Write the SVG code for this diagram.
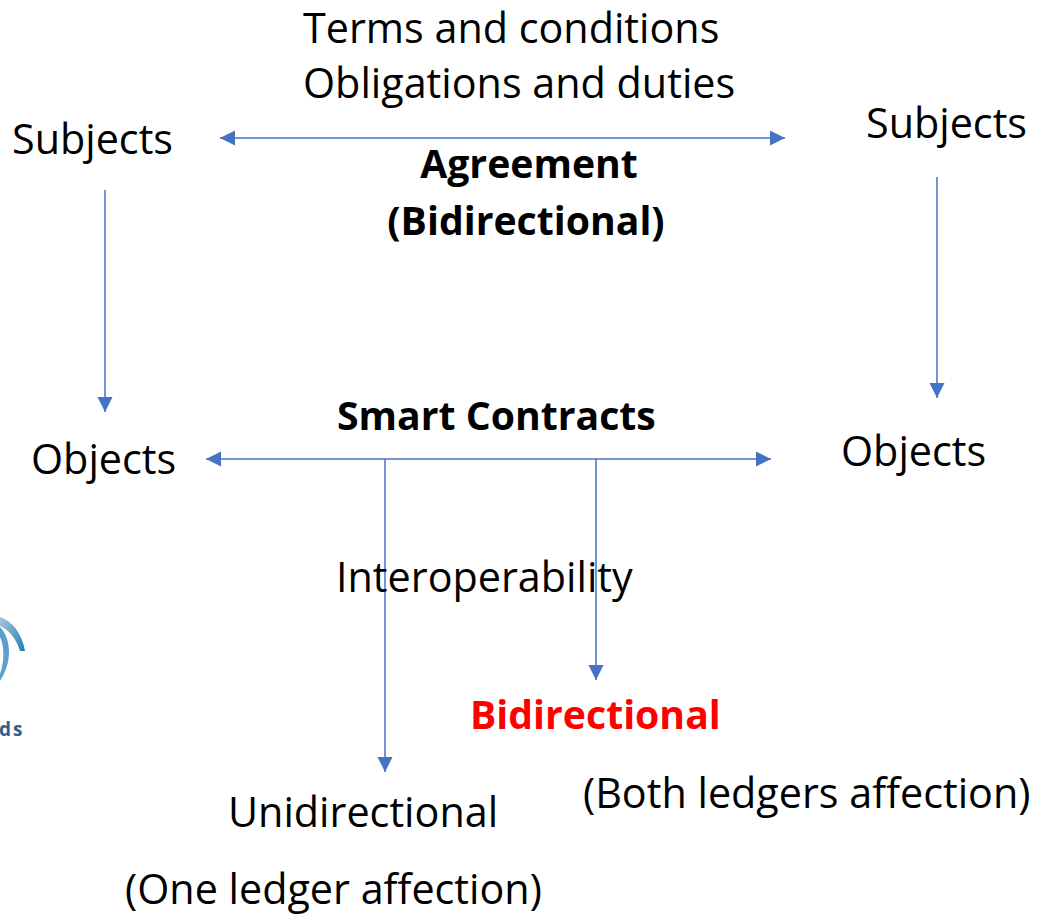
<svg xmlns="http://www.w3.org/2000/svg" width="1045" height="914" viewBox="0 0 1045 914">
<style>
text{font-family:"Open Sans","Noto Sans",sans-serif;font-size:41.3px;fill:#000}
.b{font-weight:700;font-size:39.2px}
.c{stroke:#4472c4;stroke-width:1.5;fill:none}
.l{font-size:19px;font-weight:700;fill:#2f5f86;letter-spacing:2px}
</style>
<defs>
<marker id="a" markerUnits="userSpaceOnUse" markerWidth="16" markerHeight="16" refX="15" refY="7.5" orient="auto-start-reverse"><path d="M0 0L15 7.5L0 15Z" fill="#4472c4"/></marker>
<linearGradient id="g" x1="0" y1="0" x2="1" y2="1"><stop offset="0" stop-color="#a9c6de"/><stop offset="1" stop-color="#1f7fb0"/></linearGradient>
</defs>
<rect width="1045" height="914" fill="#fff"/>
<g id="logo">
<path d="M0 617C12 621 22 633 25 651L20 651C16 638 9 630 0 626Z" fill="url(#g)"/>
<path d="M0 627C10 637 14 660 0 681L0 674C5 660 4 645 0 637Z" fill="#5b9fd0"/>
<text class="l" x="-1" y="736">ds</text>
</g>
<g id="connectors">
<path class="c" d="M220 138H785" marker-start="url(#a)" marker-end="url(#a)"/>
<path class="c" d="M105 190V412" marker-end="url(#a)"/>
<path class="c" d="M937 177V398" marker-end="url(#a)"/>
<path class="c" d="M206 459H771" marker-start="url(#a)" marker-end="url(#a)"/>
<path class="c" d="M385 459V772" marker-end="url(#a)"/>
<path class="c" d="M596 459V680" marker-end="url(#a)"/>
</g>
<g id="terms"><text x="303" y="43">Terms and conditions</text><text x="303" y="98">Obligations and duties</text></g>
<g id="subjects-left"><text x="12" y="154">Subjects</text></g>
<g id="subjects-right"><text x="866" y="138">Subjects</text></g>
<g id="agreement"><text class="b" x="529" y="178" text-anchor="middle">Agreement</text><text class="b" x="526" y="235" text-anchor="middle">(Bidirectional)</text></g>
<g id="smart-contracts"><text class="b" x="337" y="430">Smart Contracts</text></g>
<g id="objects-left"><text x="31" y="474">Objects</text></g>
<g id="objects-right"><text x="841" y="466">Objects</text></g>
<g id="interoperability"><text x="336" y="592">Interoperability</text></g>
<g id="bidirectional"><text class="b" x="470" y="729" style="fill:#f00">Bidirectional</text><text x="583" y="808">(Both ledgers affection)</text></g>
<g id="unidirectional"><text x="228" y="827">Unidirectional</text><text x="125" y="904">(One ledger affection)</text></g>
</svg>
